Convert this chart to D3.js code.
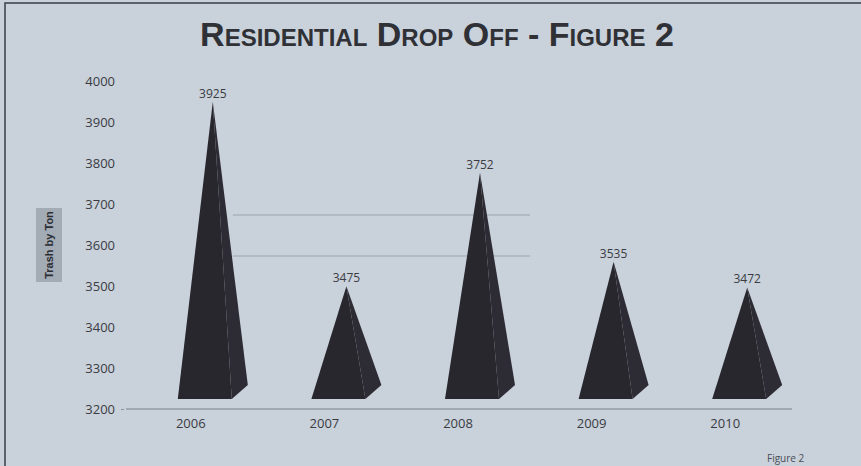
<!DOCTYPE html>
<html>
<head>
<meta charset="utf-8">
<script src="https://cdn.jsdelivr.net/npm/d3@7"></script>
<style>
  html, body { margin: 0; padding: 0; background: #c9d1db; }
  svg { display: block; }
</style>
</head>
<body>
<svg id="chart"></svg>
<script>
const years = ["2006", "2007", "2008", "2009", "2010"];
const tons = [3925, 3475, 3752, 3535, 3472];
const yTicks = [3200, 3300, 3400, 3500, 3600, 3700, 3800, 3900, 4000];
const faintGrid = [3700, 3600];

const W = 861, H = 466;
const svg = d3.select("#chart").attr("width", W).attr("height", H);

// background + frame
svg.append("rect").attr("width", W).attr("height", H).attr("fill", "#c9d1db");
svg.append("path")
  .attr("d", `M5,${H} V3 H${W}`)
  .attr("fill", "none").attr("stroke", "#3a3d44").attr("stroke-width", 1.5);

const x = d3.scaleBand().domain(years).range([124, 792]);
const y = d3.scaleLinear().domain([3200, 4000]).range([409, 81]);
const depth = 10; // 3D shift of the pyramids

// title
svg.append("text")
  .attr("x", 437).attr("y", 46)
  .attr("text-anchor", "middle")
  .style("font-family", "'Liberation Sans', Arial, sans-serif")
  .style("font-weight", "bold")
  .style("font-size", "34px")
  .style("font-variant", "small-caps")
  .attr("fill", "#2f3136")
  .text("Residential Drop Off - Figure 2");

// faint back-wall gridlines (partially visible)
svg.append("g").selectAll("line")
  .data(faintGrid).join("line")
  .attr("x1", x("2006") + x.bandwidth() / 2 + 42)
  .attr("x2", x("2008") + x.bandwidth() / 2 + 72)
  .attr("y1", d => y(d) + 11).attr("y2", d => y(d) + 11)
  .attr("stroke", "#aab2bc").attr("stroke-width", 1.5);

// y axis
const yAxis = svg.append("g")
  .attr("transform", "translate(124,0)")
  .call(d3.axisLeft(y).tickValues(yTicks).tickFormat(d3.format("d")).tickSize(3).tickPadding(6));
yAxis.select(".domain").remove();
yAxis.selectAll(".tick line").attr("stroke", "#8a919b")
  .attr("opacity", d => d === 3200 ? 1 : 0);
yAxis.selectAll("text")
  .style("font-family", "'Open Sans', 'DejaVu Sans', sans-serif")
  .style("font-size", "13px").attr("fill", "#3a3c42");

// baseline
svg.append("line")
  .attr("x1", 126).attr("x2", 792)
  .attr("y1", y(3200)).attr("y2", y(3200))
  .attr("stroke", "#a0a8b2").attr("stroke-width", 2);

// x axis labels
const xAxis = svg.append("g")
  .attr("transform", `translate(0,${y(3200)})`)
  .call(d3.axisBottom(x).tickSize(0).tickPadding(10));
xAxis.select(".domain").remove();
xAxis.selectAll("text")
  .style("font-family", "'Open Sans', 'DejaVu Sans', sans-serif")
  .style("font-size", "13px").attr("fill", "#3a3c42");

// y axis title with grey box
const yl = svg.append("g").attr("transform", "translate(49,245) rotate(-90)");
yl.append("rect").attr("x", -37).attr("y", -13).attr("width", 74).attr("height", 26)
  .attr("fill", "#a3abb5");
yl.append("text")
  .attr("text-anchor", "middle").attr("dy", "0.35em")
  .style("font-family", "'Liberation Sans', Arial, sans-serif")
  .style("font-weight", "bold").style("font-size", "11px")
  .attr("fill", "#2b2d33")
  .text("Trash by Ton");

// pyramids
const data = years.map((yr, i) => ({ year: yr, value: tons[i] }));
const baseY = y(3200) - depth;
const g = svg.append("g");
data.forEach(d => {
  const c = x(d.year) + x.bandwidth() / 2;
  const apex = [c + 22, y(d.value) - depth];
  const fl = [c - 13, baseY];
  const fr = [c + 41, baseY];
  const br = [c + 57, baseY - 14];
  g.append("path")
    .attr("d", d3.line()([apex, fr, br]) + "Z")
    .attr("fill", "#2d2b33");
  g.append("path")
    .attr("d", d3.line()([apex, fl, fr]) + "Z")
    .attr("fill", "#28272e");
  g.append("text")
    .attr("x", apex[0]).attr("y", apex[1] - 4)
    .attr("text-anchor", "middle")
    .style("font-family", "'Open Sans', 'DejaVu Sans', sans-serif")
    .style("font-size", "12px").attr("fill", "#3a3c42")
    .text(d.value);
});

// caption at the bottom right
svg.append("text")
  .attr("x", 767).attr("y", 462)
  .style("font-family", "'Open Sans', 'DejaVu Sans', sans-serif")
  .style("font-size", "10px").attr("fill", "#4a4d55")
  .text("Figure 2");
</script>
</body>
</html>
